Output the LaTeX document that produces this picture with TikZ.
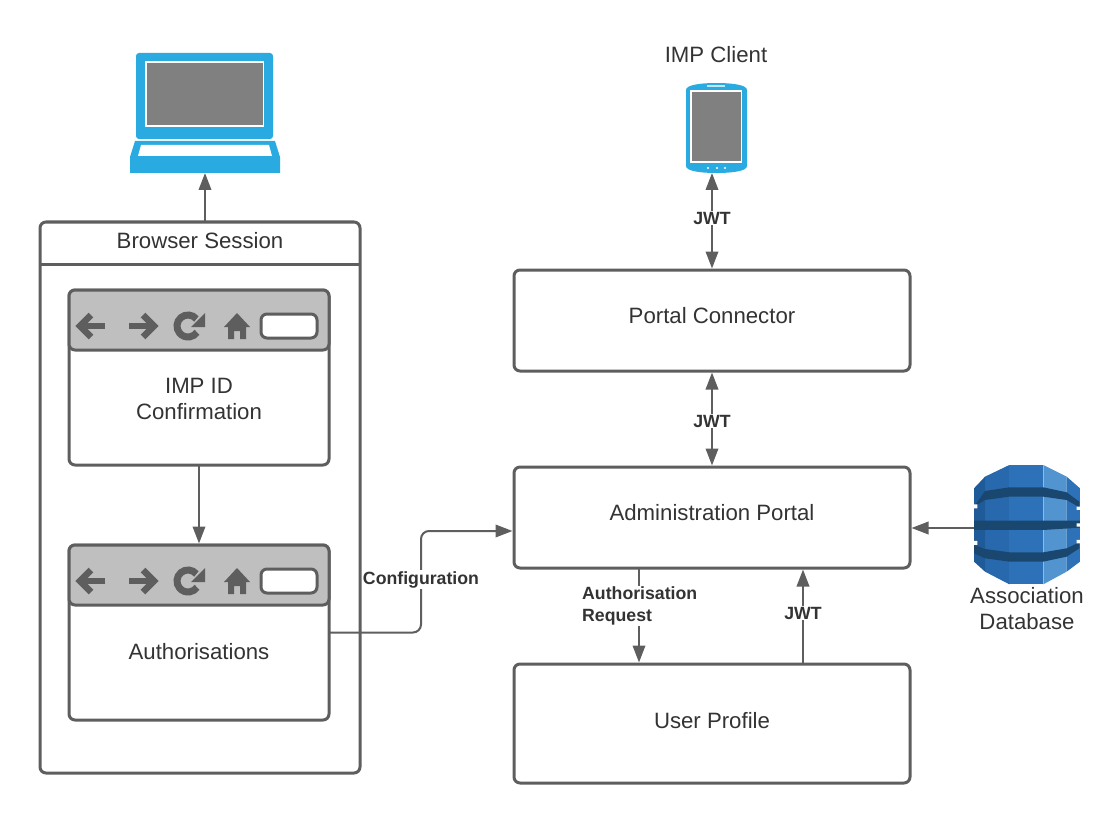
\documentclass[tikz,border=0pt]{standalone}
\usepackage{fontspec}
\setmainfont{Liberation Sans}
\usetikzlibrary{arrows.meta,calc}
\definecolor{ln}{HTML}{5E5E5E}
\definecolor{tx}{HTML}{333333}
\definecolor{dev}{HTML}{29ABE2}
\definecolor{scr}{HTML}{808080}
\definecolor{bar}{HTML}{BFBFBF}
\definecolor{dbmid}{HTML}{2D72B8}
\definecolor{dblight}{HTML}{5294CF}
\definecolor{dbleft}{HTML}{205B99}
\definecolor{dbleftb}{HTML}{2868AC}
\definecolor{dbdark}{HTML}{1A476F}
\tikzset{
  x=1pt,y=-1pt,
  boxn/.style={draw=ln,line width=3pt,fill=white,rounded corners=6pt,inner sep=0pt,outer sep=0pt},
  txt/.style={text=tx,font=\fontsize{22.2}{26.5}\selectfont,align=center,inner sep=0pt},
  lab/.style={text=tx,font=\fontsize{17.7}{21.5}\selectfont\bfseries,fill=white,inner xsep=1pt,inner ysep=1pt},
  tipa/.tip={Triangle[length=17pt,width=12.5pt]},
  conn/.style={draw=ln,line width=2pt,-tipa,shorten >=1.5pt},
  conn2/.style={draw=ln,line width=2pt,tipa-tipa,shorten >=1.5pt,shorten <=1.5pt},
  connfree/.style={draw=ln,line width=2pt,-tipa},
  icon/.style={draw=ln,line width=6.5pt},
  browserbar/.pic={
    \draw[fill=bar,draw=ln,line width=3pt,rounded corners=6pt] (0,0) -- (260,0) -- (260,60) -- (0,60) -- cycle;
    % back
    \draw[icon] (36,36) -- (14,36);
    \draw[icon] (22,25) -- (11,36) -- (22,47);
    % forward
    \draw[icon] (60,36) -- (82,36);
    \draw[icon] (74,25) -- (85,36) -- (74,47);
    % reload
    \draw[icon,line width=7pt] (119,36) ++(-40:11) arc[start angle=-40,end angle=-325,radius=11];
    \fill[ln] (136,23) -- (136,37) -- (122,37) -- cycle;
    % home
    \fill[ln] (168,23) -- (181,37) -- (177,37) -- (177,49) -- (171,49) -- (171,41) -- (165,41) -- (165,49) -- (159,49) -- (159,37) -- (155,37) -- cycle;
    % input
    \draw[draw=ln,fill=white,line width=3pt,rounded corners=6pt] (192,24) rectangle (248,48);
  }
}
\begin{document}
\begin{tikzpicture}
\useasboundingbox (0,0) rectangle (1120,824);
% laptop
\node[minimum width=150pt,minimum height=120pt,inner sep=0pt,outer sep=0pt] (laptop) at (205,113) {};
\fill[dev,rounded corners=3pt] (136,53) rectangle (273,139);
\fill[white] (145,61) rectangle (264,127);
\fill[scr] (147,63) rectangle (263,125);
\fill[dev] (135,141) -- (275,141) -- (280,157) -- (280,173) -- (130,173) -- (130,157) -- cycle;
\fill[white] (141,145) -- (269,145) -- (272,156) -- (138,156) -- cycle;
% tablet
\node[minimum width=61pt,minimum height=90pt,inner sep=0pt,outer sep=0pt] (tablet) at (716.5,128) {};
\fill[dev] (686,90) .. controls (686,85) and (700,83) .. (716,83) .. controls (733,83) and (747,85) .. (747,90) -- (747,166) .. controls (747,171) and (733,173) .. (716,173) .. controls (700,173) and (686,171) .. (686,166) -- cycle;
\fill[white] (690,90) rectangle (742,163);
\fill[scr] (692,92) rectangle (741,161);
\fill[white!70!dev] (707,85.5) rectangle (725,87.5);
\fill[white] (708,168) circle[radius=1.2] (717,168) circle[radius=1.2] (725,168) circle[radius=1.2];
\node[txt] (client) at (716,54.5) {IMP Client};
% browser session
\node[boxn,minimum width=320pt,minimum height=551pt] (session) at (200,497.5) {};
\draw[draw=ln,line width=3pt] (40,264) -- (360,264);
\node[txt] (sessiont) at (200,241) {Browser Session};
% pages
\node[boxn,minimum width=260pt,minimum height=175pt] (conf) at (199,377.5) {};
\pic at (69,290) {browserbar};
\node[txt] (conft) at (199,399) {IMP ID\\Confirmation};
\node[boxn,minimum width=260pt,minimum height=175pt] (auth) at (199,632.5) {};
\pic at (69,545) {browserbar};
\node[txt] (autht) at (199,652) {Authorisations};
% right boxes
\node[boxn,minimum width=396pt,minimum height=101pt] (pc) at (712,320.5) {};
\node[txt] (pct) at (712,316) {Portal Connector};
\node[boxn,minimum width=396pt,minimum height=101pt] (ap) at (712,517.5) {};
\node[txt] (apt) at (712,513) {Administration Portal};
\node[boxn,minimum width=396pt,minimum height=119pt] (up) at (712,723.5) {};
\node[txt] (upt) at (712,721) {User Profile};
% database
\node[minimum width=106pt,minimum height=119pt,inner sep=0pt,outer sep=0pt] (db) at (1027,524.5) {};
\begin{scope}[shift={(960,455)},x=0.3333pt,y=-0.3333pt]
  \fill[dbleftb] (75,65) -- (148,30) -- (148,388) -- (75,350) -- cycle;
  \fill[dbmid] (148,30) rectangle (250,388);
  \fill[dblight] (250,30) -- (320,65) -- (320,350) -- (250,388) -- cycle;
  \fill[dbmid] (320,65) -- (360,100) -- (360,320) -- (320,350) -- cycle;
  \fill[dbleft] (42,100) -- (75,65) -- (75,350) -- (42,320) -- cycle;
  \fill[dbdark] (42,155) -- (75,108) -- (148,97) -- (250,97) -- (320,112) -- (358,140) -- (358,157) -- (320,135) -- (250,125) -- (148,125) -- (75,135) -- cycle;
  \fill[dbdark] (42,197) -- (360,197) -- (360,218) -- (250,225) -- (148,225) -- (42,225) -- cycle;
  \fill[dbdark] (42,270) -- (75,282) -- (148,292) -- (250,292) -- (320,280) -- (358,262) -- (358,280) -- (320,305) -- (250,320) -- (148,320) -- (75,310) -- (42,295) -- cycle;
  \fill[white] (42,148) -- (52,148) -- (52,160) -- (42,160) -- cycle (42,258) -- (52,258) -- (52,270) -- (42,270) -- cycle;
  \fill[white] (350,155) -- (362,155) -- (362,165) -- (350,165) -- cycle (350,205) -- (362,205) -- (362,215) -- (350,215) -- cycle (350,255) -- (362,255) -- (362,265) -- (350,265) -- cycle;
\end{scope}
\node[txt] (dbt) at (1027,608.5) {Association\\Database};
% connectors
\draw[connfree] (session.north -| laptop.south) -- (laptop.south);
\draw[conn] (conf.south) -- (auth.north);
\draw[draw=ln,line width=2pt,tipa-tipa,shorten >=0pt,shorten <=1.5pt] (pc.north) -- (pc.north |- tablet.south);
\node[lab] (j1) at (712,218) {JWT};
\draw[conn2] (pc.south) -- (ap.north);
\node[lab] (j2) at (712,421) {JWT};
\coordinate (apin) at ($(ap.west)+(0,13.5)$);
\draw[conn,rounded corners=8pt] (auth.east) -- (421,632.5) -- (421,531) -- (apin);
\node[lab] (cfg) at (421,579.5) {Configuration};
\coordinate (reqa) at ($(ap.south)+(-73,0)$);
\coordinate (reqb) at ($(up.north)+(-73,0)$);
\draw[conn] (reqa) -- (reqb);
\node[lab,align=left,anchor=west] (req) at (581,606) {Authorisation\\Request};
\coordinate (jwta) at ($(up.north)+(91,0)$);
\coordinate (jwtb) at ($(ap.south)+(91,0)$);
\draw[conn] (jwta) -- (jwtb);
\node[lab] (j3) at (803,613) {JWT};
\coordinate (dbin) at ($(ap.east)+(0,10.5)$);
\coordinate (dbout) at (dbin -| db.west);
\draw[conn] (dbout) -- (dbin);
\end{tikzpicture}
\end{document}
